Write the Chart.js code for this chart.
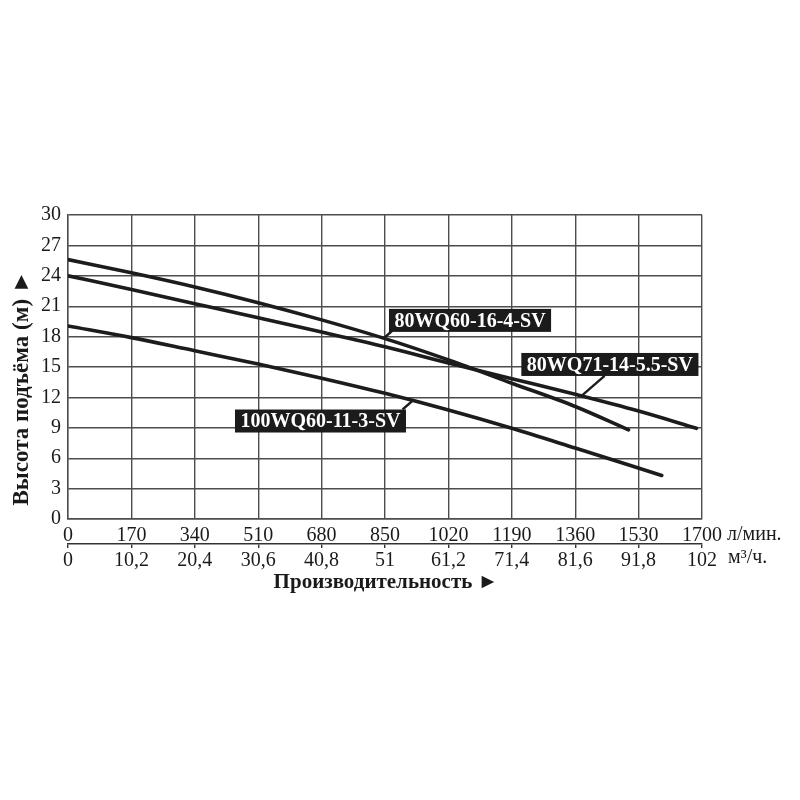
<!DOCTYPE html>
<html lang="ru">
<head>
<meta charset="utf-8">
<title>Производительность</title>
<script src="https://cdn.jsdelivr.net/npm/chart.js@4.4.1/dist/chart.umd.min.js"></script>
<style>
    html, body { margin: 0; padding: 0; background: #fff; }
    #wrap { width: 800px; height: 800px; }
</style>
</head>
<body>
<div id="wrap"><canvas id="chart" width="800" height="800"></canvas></div>
<script>
// Шкалы
const flowTicks = ['0', '170', '340', '510', '680', '850', '1020', '1190', '1360', '1530', '1700'];
const m3Ticks = ['0', '10,2', '20,4', '30,6', '40,8', '51', '61,2', '71,4', '81,6', '91,8', '102'];

// 80WQ60-16-4-SV
const flowA = [0, 170, 340, 510, 680, 850, 1020, 1190, 1360, 1503];
const headA = [25.6, 24.3, 22.9, 21.35, 19.65, 17.8, 15.7, 13.4, 11.1, 8.8];

// 80WQ71-14-5.5-SV
const flowB = [0, 170, 340, 510, 680, 850, 1020, 1190, 1360, 1530, 1685];
const headB = [24.0, 22.65, 21.25, 19.85, 18.45, 17.0, 15.4, 13.85, 12.3, 10.65, 8.95];

// 100WQ60-11-3-SV
const flowC = [0, 170, 340, 510, 680, 850, 1020, 1190, 1360, 1592];
const headC = [19.05, 17.9, 16.6, 15.3, 13.9, 12.4, 10.75, 8.95, 7.0, 4.3];

const seriesNames = ['80WQ60-16-4-SV', '80WQ71-14-5.5-SV', '100WQ60-11-3-SV'];

const serif = '"Liberation Serif", "DejaVu Serif", serif';
const gridColor = '#4d4d4d';
const lineColor = '#1c1c1c';

// подписи кривых: центр рамки, точка на кривой, место выноски на рамке
const callouts = [
    { text: seriesNames[0], cx: 1078, cy: 19.6, tx: 847, ty: 17.85, fx: 0.02, fy: 0.95 },
    { text: seriesNames[1], cx: 1453, cy: 15.25, tx: 1377, ty: 12.15, fx: 0.47, fy: 1 },
    { text: seriesNames[2], cx: 677, cy: 9.67, tx: 925, ty: 11.7, fx: 0.98, fy: 0 },
];

function toPoints(xs, ys) {
    return xs.map((x, i) => ({ x, y: ys[i] }));
}

function makeSet(label, xs, ys) {
    return {
        label,
        data: toPoints(xs, ys),
        borderColor: lineColor,
        backgroundColor: lineColor,
        borderWidth: 3.6,
        pointRadius: 0,
        fill: false,
        cubicInterpolationMode: 'monotone',
        borderCapStyle: 'round',
    };
}

/**
 * Подписи осей, единицы и рамки с названиями насосов
 */
const extrasPlugin = {
    id: 'extras',
    afterDraw(chart) {
        const ctx = chart.ctx;
        const xs = chart.scales.x;
        const ys = chart.scales.y;

        ctx.save();
        ctx.fillStyle = '#1a1a1a';
        ctx.textBaseline = 'middle';

        // единицы
        ctx.font = `20px ${serif}`;
        ctx.textAlign = 'left';
        ctx.fillText('л/мин.', 727, 535);
        ctx.fillText('м³/ч.', 728, 558);

        // названия осей
        ctx.font = `bold 21px ${serif}`;
        ctx.textAlign = 'center';
        ctx.fillText('Производительность ►', 386, 583);

        ctx.save();
        ctx.translate(22, 388);
        ctx.rotate(-Math.PI / 2);
        ctx.font = `bold 23px ${serif}`;
        ctx.fillText('Высота подъёма (м) ►', 0, 0);
        ctx.restore();

        // выноски
        ctx.font = `bold 20px ${serif}`;
        callouts.forEach((c) => {
            const w = ctx.measureText(c.text).width + 11;
            const h = 23;
            const cx = xs.getPixelForValue(c.cx);
            const cy = ys.getPixelForValue(c.cy);
            const left = cx - w / 2;
            const top = cy - h / 2;

            ctx.strokeStyle = lineColor;
            ctx.lineWidth = 2.4;
            ctx.beginPath();
            ctx.moveTo(xs.getPixelForValue(c.tx), ys.getPixelForValue(c.ty));
            ctx.lineTo(left + w * c.fx, top + h * c.fy);
            ctx.stroke();

            ctx.fillStyle = '#1b1b1b';
            ctx.fillRect(left, top, w, h);
            ctx.fillStyle = '#ffffff';
            ctx.fillText(c.text, cx, cy + 1);
        });

        ctx.restore();
    },
};

new Chart(document.getElementById('chart'), {
    type: 'line',
    data: {
        datasets: [
            makeSet(seriesNames[0], flowA, headA),
            makeSet(seriesNames[1], flowB, headB),
            makeSet(seriesNames[2], flowC, headC),
        ],
    },
    options: {
        responsive: false,
        animation: false,
        layout: {
            padding: { left: 0, top: 215, right: 98, bottom: 230 },
        },
        plugins: {
            legend: { display: false },
            tooltip: { enabled: false },
        },
        scales: {
            x: {
                type: 'linear',
                position: 'bottom',
                min: 0,
                max: 1700,
                afterBuildTicks(scale) {
                    scale.ticks = flowTicks.map((t) => ({ value: Number(t) }));
                },
                afterFit(scale) {
                    scale.height = 25;
                },
                grid: { color: gridColor, lineWidth: 1.4, drawTicks: false },
                border: { display: true, color: gridColor, width: 1.4 },
                ticks: {
                    padding: 5,
                    maxRotation: 0,
                    autoSkip: false,
                    color: '#1a1a1a',
                    font: { family: serif, size: 20 },
                    callback: (v, i) => flowTicks[i],
                },
            },
            x2: {
                type: 'linear',
                position: 'bottom',
                min: 0,
                max: 1700,
                afterBuildTicks(scale) {
                    scale.ticks = flowTicks.map((t) => ({ value: Number(t) }));
                },
                afterFit(scale) {
                    scale.height = 26;
                },
                grid: { drawOnChartArea: false, drawTicks: true, tickLength: 4, color: '#333', lineWidth: 1.4 },
                border: { display: true, color: '#333', width: 1.6 },
                ticks: {
                    padding: 1,
                    maxRotation: 0,
                    autoSkip: false,
                    color: '#1a1a1a',
                    font: { family: serif, size: 20 },
                    callback: (v, i) => m3Ticks[i],
                },
            },
            y: {
                type: 'linear',
                position: 'left',
                min: 0,
                max: 30,
                afterFit(scale) {
                    scale.width = 68;
                },
                grid: { color: gridColor, lineWidth: 1.4, drawTicks: false },
                border: { display: true, color: gridColor, width: 1.4 },
                ticks: {
                    stepSize: 3,
                    padding: 7,
                    color: '#1a1a1a',
                    font: { family: serif, size: 20 },
                },
            },
        },
    },
    plugins: [extrasPlugin],
});
</script>
</body>
</html>
